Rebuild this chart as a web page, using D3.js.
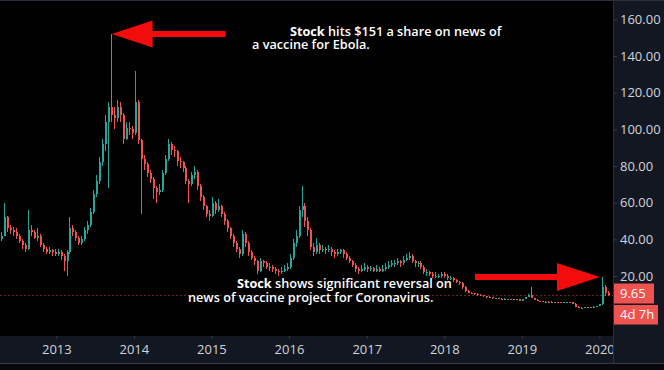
<!DOCTYPE html>
<html><head><meta charset="utf-8">
<script src="https://cdn.jsdelivr.net/npm/d3@7"></script>
<style>
html,body{margin:0;padding:0;background:#000;overflow:hidden}
.note{font-family:'Open Sans',sans-serif;font-size:12.7px;font-weight:600;color:#fff;line-height:13.4px;white-space:nowrap;margin:0}
.note b{font-weight:700}
</style>
</head><body>
<svg id="c" width="664" height="370"></svg>
<script>
// ---- data (two-week candles) ----
const firstCandleDate = "2012-04-16";
const candleStepDays = 14;
const firstOpen = 40;
const closes = [
 42,52,46,45,44,42,39,37,35,45,
 44,41,42,37,35,33,34,33,32,33,
 31,28,33,46,44,41,38,40,45,48,
 55,65,72,82,92,104,112,108,106,112,
 108,95,101,100,98,115,94,84,81,76,
 73,68,66,67,76,84,92,89,88,83,
 82,79,72,70,75,77,69,63,58,54,
 53,60,56,58,54,50,46,42,38,35,
 32,43,38,33,30,28,23,28,27,25,
 25,24,23,22,23,24,25,30,38,42,
 56,58,50,45,36,33,37,34,35,34,
 35,33,32,33,34,32,30,28,26,24,
 23,24,25,24,24.5,23,24,23,24,25,
 26,27,27,28,27,29,30,31,28,27,
 27,25,22,22,21,20,20,20,21,20,
 19,19,18,17,16,14,12,11,10.5,10,
 9.7,9.5,9,8.5,8.5,7.8,7.8,7.5,7.2,7.5,
 7.2,7.3,7,7.3,6.5,7.3,8.5,9.5,8,7,
 6.4,6.2,6,6,5.8,6,5.8,5.7,5.6,5.7,
 5.8,5.6,5,3.2,2.6,2.7,3,2.6,3,3.1,
 3.5,4.5,14,11,9.65
];
const highs = [
 44,60,53,48,47,46,43,40,38,56,
 48,45,46,43,38,36,36,35,35,35,
 34,32,34,52,48,45,42,42,47,50,
 57,67,75,85,95,108,115,152,112,116,
 115,109,104,104,102,132,116,95,86,82,
 78,74,69,70,78,86,95,93,91,89,
 85,83,80,73,77,80,78,70,64,59,
 56,63,61,62,59,55,51,47,43,39,
 36,45,44,39,34,31,29,30,29,28,
 27,26,25,24,25,26,27,32,40,45,
 58,69,60,52,46,38,41,38,37,36,
 37,36,34,35,35,35,33,31,29,27,
 25,26,27,26,25.5,25,26,25,26,27,
 28,29,29,30,29,31,32,33,32,29,
 28,28,26,24,23,22,22,21,22,22,
 21,20,19.5,18.5,17.5,16.5,14.5,12.5,11.5,11,
 10.5,10.2,9.8,9.3,9,8.7,8.2,8,7.8,7.9,
 7.7,7.6,7.5,7.6,7.4,7.6,8.8,10,14,8.2,
 7.2,6.6,6.4,6.3,6.2,6.2,6.1,6,5.9,5.9,
 6,5.9,5.7,5.1,3.4,3,3.3,3.1,3.3,3.4,
 3.8,5,19.5,15,12
];
const lows = [
 39,42,44,43,42,40,38,35,33,34,
 42,40,39,36,33,32,32,31,31,31,
 29,23,20,32,42,39,37,37,39,43,
 47,54,63,70,80,88,68,104,100,104,
 104,92,94,97,95,97,92,54,78,74,
 71,62,60,64,66,75,83,86,85,80,
 79,77,70,60,69,73,67,61,56,52,
 50,52,54,55,52,48,44,40,36,33,
 30,31,36,31,29,26,21,22,25,24,
 23,22,21,20,21,22,23,24,29,36,
 41,52,47,42,34,31,32,32,33,32,
 33,31,30,31,32,30,29,27,25,22,
 21,22,23,22,23,22,22,22,22,23,
 24,25,25,26,25,26,28,29,27,25,
 25,24,21,20,20,19,19,19,19,19,
 18,18,17,16,15,13,11.5,10.5,10,9.5,
 9.2,9,8.6,8.2,8,7.5,7.4,7.2,6.9,7,
 6.9,6.9,6.7,6.8,6.2,6.4,7.2,8.3,7.8,6.8,
 6.2,6,5.8,5.8,5.6,5.6,5.6,5.5,5.4,5.4,
 5.5,5.4,4.8,3,2.4,2.4,2.6,2.4,2.5,2.8,
 3,3.4,4.3,9,9
];
const priceTicks = [20,40,60,80,100,120,140,160];
const yearTicks = ["2013","2014","2015","2016","2017","2018","2019","2020"];
const lastPriceLabel = "9.65";
const countdownLabel = "4d 7h";
const note1Lines = ["Stock hits $151 a share on news of", "a vaccine for Ebola."];
const note2Lines = ["Stock shows significant reversal on", "news of vaccine project for Coronavirus."];
const ebolaPeakIndex = 37;
const coronaPeakIndex = 202;

// ---- layout ----
const W = 664, H = 370, plotR = 613, plotB = 336, axisB = 363;
const upColor = "#26a69a", downColor = "#ef5350";
const parse = d3.timeParse("%Y-%m-%d");
const t0 = parse(firstCandleDate);
const candles = closes.map((c, i) => ({
  date: d3.timeDay.offset(t0, i * candleStepDays),
  open: i === 0 ? firstOpen : closes[i - 1],
  high: highs[i], low: lows[i], close: c
}));

const x = d3.scaleTime().domain([parse("2012-04-11"), parse("2020-03-05")]).range([0, plotR]);
const y = d3.scaleLinear().domain([0, 170]).range([312.7, 1]);

const svg = d3.select("#c");
svg.append("defs").append("clipPath").attr("id", "plotclip")
  .append("rect").attr("x", 0).attr("y", 0).attr("width", plotR).attr("height", H);

svg.append("rect").attr("width", W).attr("height", H).attr("fill", "#000");
svg.append("rect").attr("x", 0).attr("y", plotB).attr("width", W).attr("height", axisB - plotB).attr("fill", "#131722");
svg.append("rect").attr("x", 0).attr("y", axisB).attr("width", W).attr("height", H - axisB).attr("fill", "#07080b");

// last price line
const ly = y(+lastPriceLabel);
svg.append("line").attr("x1", 0).attr("x2", plotR).attr("y1", Math.round(ly) + 0.5).attr("y2", Math.round(ly) + 0.5)
  .attr("stroke", downColor).attr("stroke-opacity", 0.45).attr("stroke-dasharray", "2,2");

// candles
const g = svg.append("g").attr("shape-rendering", "crispEdges").attr("clip-path", "url(#plotclip)");
const cg = g.selectAll("g").data(candles).join("g")
  .attr("fill", d => d.close >= d.open ? upColor : downColor);
cg.append("rect")
  .attr("x", d => Math.round(x(d.date)))
  .attr("width", 1)
  .attr("y", d => y(d.high))
  .attr("height", d => Math.max(1, y(d.low) - y(d.high)));
cg.append("rect")
  .attr("x", d => Math.round(x(d.date)) - 0.5)
  .attr("width", 2)
  .attr("y", d => y(Math.max(d.open, d.close)))
  .attr("height", d => Math.max(1, Math.abs(y(d.open) - y(d.close))));

// x axis (clipped by the price panel)
const xAxis = d3.axisBottom(x).tickValues(yearTicks.map(s => parse(s + "-01-01"))).tickFormat(d3.timeFormat("%Y")).tickSize(3).tickPadding(6);
const xa = svg.append("g").attr("clip-path", "url(#plotclip)").append("g").attr("transform", `translate(0,${plotB})`).call(xAxis);
xa.select(".domain").remove();
xa.selectAll("line").attr("stroke", "#363a45");
xa.selectAll("text").attr("fill", "#d1d4dc").style("font", "13px 'Open Sans', sans-serif");

// right price panel
svg.append("rect").attr("x", plotR).attr("y", 0).attr("width", W - plotR).attr("height", axisB).attr("fill", "#131722");
svg.append("line").attr("x1", 0).attr("x2", W).attr("y1", 0.5).attr("y2", 0.5).attr("stroke", "#2a2e39");
svg.append("line").attr("x1", 0).attr("x2", W).attr("y1", axisB + 0.5).attr("y2", axisB + 0.5).attr("stroke", "#363a45");
svg.append("line").attr("x1", plotR + 0.5).attr("x2", plotR + 0.5).attr("y1", 0).attr("y2", axisB).attr("stroke", "#2a2e39");

const yAxis = d3.axisRight(y).tickValues(priceTicks).tickFormat(d => d3.format(".2f")(d)).tickSize(4).tickPadding(3);
const ya = svg.append("g").attr("transform", `translate(${plotR},0)`).call(yAxis);
ya.select(".domain").remove();
ya.selectAll("line").attr("stroke", "#363a45");
ya.selectAll("text").attr("fill", "#d1d4dc").style("font", "13px 'Open Sans', sans-serif");

// last price + countdown boxes
svg.append("rect").attr("x", plotR + 1).attr("y", ly - 11.5).attr("width", 40).attr("height", 20).attr("fill", downColor);
svg.append("text").attr("x", 620).attr("y", ly - 1.5).attr("dy", "0.35em").attr("fill", "#fff")
  .style("font", "13px 'Open Sans', sans-serif").text(lastPriceLabel);
svg.append("rect").attr("x", plotR + 1).attr("y", ly + 10).attr("width", 44).attr("height", 19.5).attr("fill", downColor);
svg.append("text").attr("x", 620).attr("y", ly + 19.8).attr("dy", "0.35em").attr("fill", "#fff")
  .style("font", "13px 'Open Sans', sans-serif").text(countdownLabel);

// arrows
const red = "#f20c0c";
function arrow(tx, ty, dir, headLen, headHalf, shaftLen, shaftHalf) {
  const s = dir; // -1 points left, +1 points right
  const pts = [
    [tx, ty],
    [tx - s * headLen, ty - headHalf],
    [tx - s * headLen, ty - shaftHalf],
    [tx - s * shaftLen, ty - shaftHalf],
    [tx - s * shaftLen, ty + shaftHalf],
    [tx - s * headLen, ty + shaftHalf],
    [tx - s * headLen, ty + headHalf]
  ];
  svg.append("polygon").attr("points", pts.map(p => p.join(",")).join(" ")).attr("fill", red);
}
const c1 = candles[ebolaPeakIndex];
arrow(x(c1.date) + 0.5, y(c1.high), -1, 41, 13.5, 114, 3);
const c2 = candles[coronaPeakIndex];
arrow(x(c2.date) - 2, y(c2.high), 1, 43, 14, 125, 3);

// annotation notes: one text block each, first line indented
function note(lines, left, indent, top) {
  const fo = svg.append("foreignObject").attr("x", left).attr("y", top).attr("width", 300).attr("height", 40);
  const div = fo.append("xhtml:div").attr("class", "note");
  const first = lines[0];
  const p1 = div.append("xhtml:div").style("padding-left", indent + "px");
  if (first.startsWith("Stock ")) {
    p1.append("xhtml:b").text("Stock");
    p1.append("xhtml:span").text(first.slice(5));
  } else p1.text(first);
  div.append("xhtml:div").text(lines[1]);
}
note(note1Lines, 252, 38, 24.5);
note(note2Lines, 188, 49, 277.3);
</script>
</body></html>
